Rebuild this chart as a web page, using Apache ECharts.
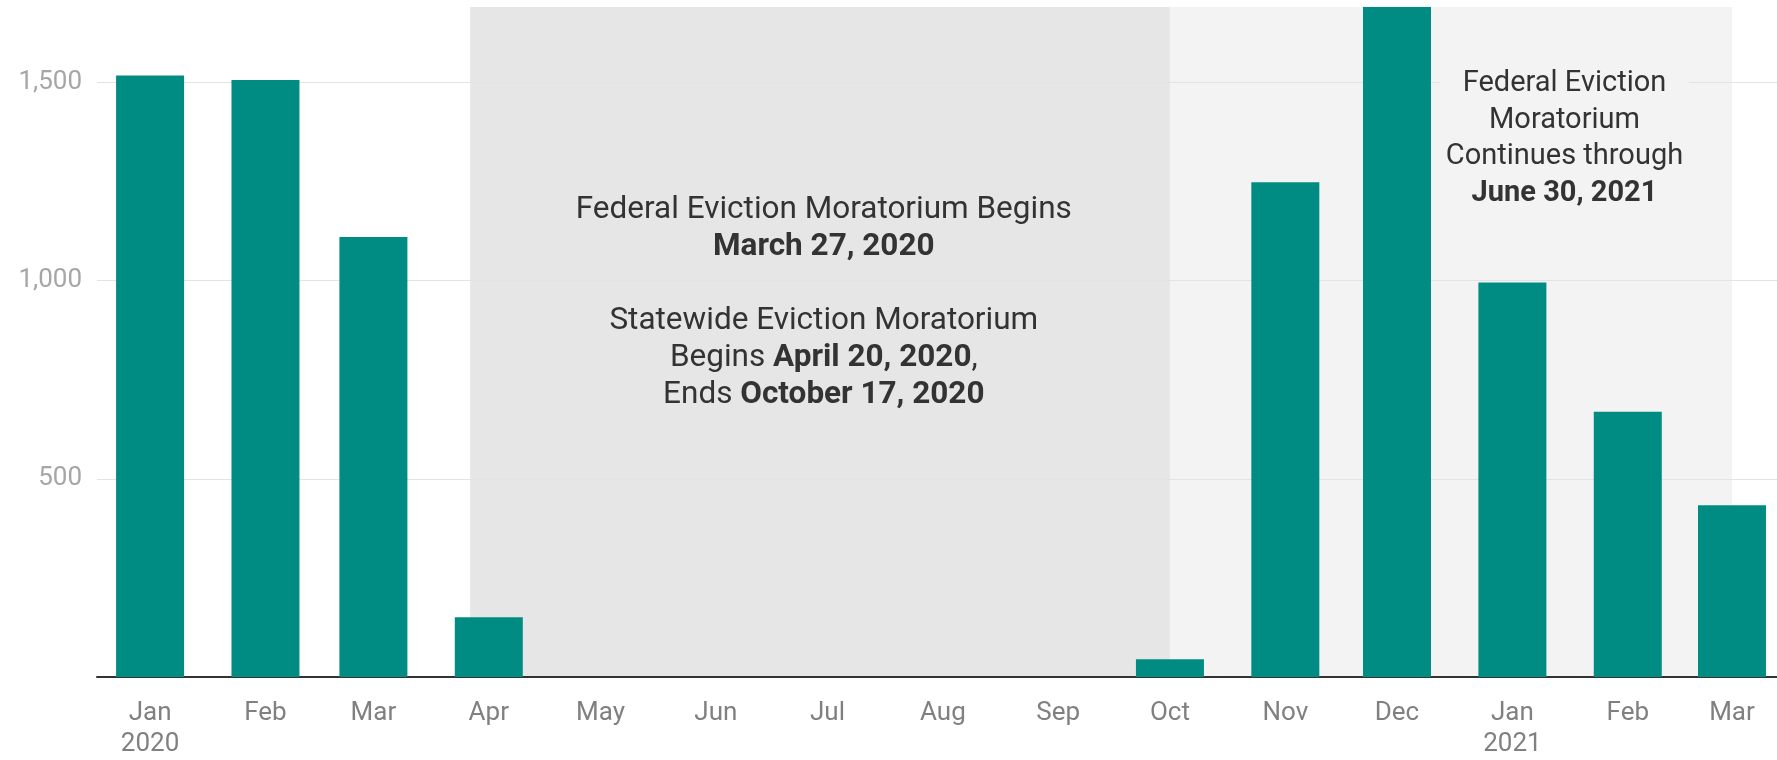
<!DOCTYPE html>
<html>
<head>
<meta charset="utf-8">
<script src="https://cdn.jsdelivr.net/npm/echarts@6/dist/echarts.min.js"></script>
<style>
  html, body { margin: 0; padding: 0; background: #fff; }
  #chart { width: 1777px; height: 760px; }
</style>
</head>
<body>
<div id="chart"></div>
<script>
// monthly eviction filings, one bar per month start
var months = ['2020-01-01', '2020-02-01', '2020-03-01', '2020-04-01', '2020-05-01',
              '2020-06-01', '2020-07-01', '2020-08-01', '2020-09-01', '2020-10-01',
              '2020-11-01', '2020-12-01', '2021-01-01', '2021-02-01', '2021-03-01'];
var filings = [1517, 1506, 1110, 151, 0, 0, 0, 0, 0, 45, 1248, 1690, 995, 669, 433];
var monthNames = ['Jan', 'Feb', 'Mar', 'Apr', 'May', 'Jun', 'Jul', 'Aug', 'Sep', 'Oct', 'Nov', 'Dec'];

// moratorium periods (shaded)
var stateMoratorium = ['2020-03-27', '2020-10-01'];
var federalMoratorium = ['2020-10-01', '2021-03-01'];

// annotation texts and where they sit (date, value)
var stateNote = 'Federal Eviction Moratorium Begins\n{bold|March 27, 2020}\n\nStatewide Eviction Moratorium\nBegins {bold|April 20, 2020},\nEnds {bold|October 17, 2020}';
var stateNoteAt = ['2020-06-30', 945];
var federalNote = 'Federal Eviction\nMoratorium\nContinues through\n{bold|June 30, 2021}';
var federalNoteAt = ['2021-01-15', 1358];

var DAY = 24 * 3600 * 1000;
var myChart = echarts.init(document.getElementById('chart'));

function noteLabel(text, size, lh, bg) {
    return {
        show: true,
        position: 'inside',
        formatter: function () { return text; },
        color: '#333',
        fontFamily: 'Roboto',
        fontSize: size,
        lineHeight: lh,
        align: 'center',
        verticalAlign: 'middle',
        backgroundColor: bg,
        padding: [0, 6],
        rich: {
            bold: { fontWeight: 'bold', fontFamily: 'Roboto', fontSize: size, lineHeight: lh, color: '#333' }
        }
    };
}

var options = {
    animation: false,
    grid: { left: 97, right: 0, top: 7, bottom: 77 },
    xAxis: {
        type: 'time',
        // echarts widens a time axis holding bars by half a bar each side,
        // these bounds end up as roughly Dec 17 2019 .. Mar 13 2021
        min: '2019-12-26 21:00:00',
        max: '2021-03-03 23:00:00',
        minInterval: 28 * DAY,
        maxInterval: 31 * DAY,
        z: 1.5,
        axisLine: { lineStyle: { color: '#333', width: 2 } },
        axisTick: { show: false },
        splitLine: { show: false },
        axisLabel: {
            color: '#808080',
            fontFamily: 'Roboto',
            fontSize: 26,
            lineHeight: 31,
            margin: 21,
            formatter: function (val) {
                var d = new Date(val);
                if (d.getDate() !== 1 || d.getHours() !== 0) return '';
                var m = monthNames[d.getMonth()];
                return d.getMonth() === 0 ? m + '\n' + d.getFullYear() : m;
            }
        }
    },
    yAxis: {
        type: 'value',
        min: 0,
        max: 1690,
        interval: 500,
        z: 1.5,
        axisLine: { show: false },
        axisTick: { show: false },
        splitLine: { showMaxLine: false, lineStyle: { color: '#e3e3e3', width: 1 } },
        axisLabel: {
            showMinLabel: false,
            showMaxLabel: false,
            color: '#a6a6a6',
            fontFamily: 'Roboto',
            fontSize: 26,
            margin: 15,
            formatter: function (v) { return v.toLocaleString('en-US'); }
        }
    },
    series: [
        {
            type: 'bar',
            data: months.map(function (m, i) { return [m, filings[i]]; }),
            barWidth: 68,
            z: 2,
            itemStyle: { color: '#008c82' },
            markArea: {
                silent: true,
                data: [
                    [{ xAxis: stateMoratorium[0], itemStyle: { color: '#e6e6e6' } }, { xAxis: stateMoratorium[1] }],
                    [{ xAxis: federalMoratorium[0], itemStyle: { color: '#f3f3f3' } }, { xAxis: federalMoratorium[1] }]
                ]
            },
            markPoint: {
                silent: true,
                symbolSize: 0,
                data: [
                    { coord: stateNoteAt, label: noteLabel(stateNote, 31.5, 37, 'transparent') },
                    { coord: federalNoteAt, label: noteLabel(federalNote, 29, 36.5, '#f3f3f3') }
                ]
            }
        }
    ]
};

myChart.setOption(options);
window.addEventListener('resize', myChart.resize);
</script>
</body>
</html>
